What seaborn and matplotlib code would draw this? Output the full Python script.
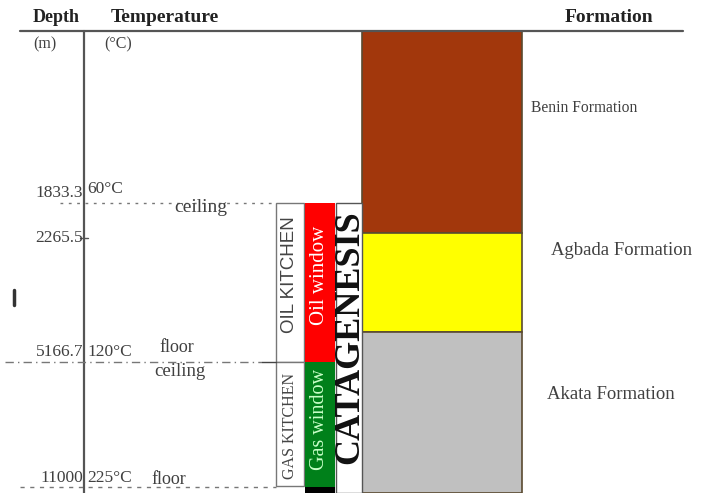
#!/usr/bin/env python3

from matplotlib import pyplot as plt
import numpy as np
import seaborn as sns

# Depth markers (m) and the temperatures read beside them
depth_marks = [1833.3, 2265.5, 5166.7, 11000]
depth_labels = ["1833.3", "2265.5", "5166.7", "11000"]
temp_labels = ["60\u00b0C", "", "120\u00b0C", "225\u00b0C"]

# Formations: name, top and base depth (m)
formations = ["Benin Formation", "Agbada Formation", "Akata Formation"]
form_top = [0, 2205, 4470]
form_base = [2205, 4470, 11300]
form_colors = ["#a2370c", "#ffff00", "#c0c0c0"]

# Hydrocarbon windows
windows = ["Oil window", "Gas window", ""]
win_top = [1833.3, 5166.7, 11000]
win_base = [5166.7, 11000, 11300]
win_colors = ["#ff0000", "#00801a", "#000000"]
kitchens = ["OIL KITCHEN", "GAS KITCHEN"]

# Depth -> drawing position (schematic, non-linear depth column)
scale_depth = [-700, 0, 1833.3, 2265.5, 5166.7, 11000, 11300]
scale_pos = [0, 31, 203, 238, 362, 487, 493]


def fwd(d):
    return np.interp(d, scale_depth, scale_pos)


def inv(p):
    return np.interp(p, scale_pos, scale_depth)


def label(ax, x, d, s, dy=0, size=12.5, **kw):
    """Text anchored at depth d, shifted dy pixels up."""
    ax.annotate(s, (x, d), xytext=(0, dy * 0.72), textcoords="offset points",
                fontsize=size, va="center", **kw)


def main():
    sns.set_theme(style="white")
    plt.rcParams["font.family"] = ["Liberation Serif", "DejaVu Serif"]

    fig = plt.figure(figsize=(7.01, 4.93), dpi=100)
    ax = fig.add_axes([0, 0, 1, 1])
    ax.set_yscale("function", functions=(fwd, inv))
    ax.set_xlim(0, 701)
    ax.set_ylim(11300, -700)
    ax.axis("off")

    txt = "#404040"
    hdr = "#222222"

    # Header
    ax.plot([20, 683], [0, 0], color="#555555", lw=1.6)
    ax.plot([84, 84], [0, 11300], color="#555555", lw=1.6)
    label(ax, 33, 0, "Depth", dy=13, size=13, fontweight="bold", color=hdr)
    label(ax, 111, 0, "Temperature", dy=13, size=14, fontweight="bold", color=hdr)
    label(ax, 565, 0, "Formation", dy=13, size=14, fontweight="bold", color=hdr)
    label(ax, 33, 0, "(m)", dy=-13, size=11.5, color=txt)
    label(ax, 104, 0, "(\u00b0C)", dy=-13, size=11.5, color=txt)

    # Formation column
    heights = np.array(form_base) - np.array(form_top)
    ax.bar(442, heights, width=160, bottom=form_top, color=form_colors,
           edgecolor="#5a4a30", linewidth=1.2)
    name_x = [531, 551, 547]
    name_d = [820, 2550, 6700]
    name_size = [11.2, 13.5, 13.5]
    for name, x, d, s in zip(formations, name_x, name_d, name_size):
        label(ax, x, d, name, size=s, color=txt)

    # Kitchens boxes
    ax.bar(290, [5166.7 - 1833.3, 10960 - 5166.7], width=28,
           bottom=[1833.3, 5166.7], color="white", edgecolor="#777777", linewidth=1)
    ax.text(290, 3130, kitchens[0], rotation=90, fontsize=13.5,
            family="Liberation Sans", color="#444444", ha="center", va="center")
    ax.text(290, 8170, kitchens[1], rotation=90, fontsize=11.5,
            color="#444444", ha="center", va="center")

    # Windows
    wh = np.array(win_base) - np.array(win_top)
    ax.bar(320, wh, width=30, bottom=win_top, color=win_colors, linewidth=0)
    ax.text(320, 3130, windows[0], rotation=90, fontsize=15, color="white",
            ha="center", va="center")
    ax.text(320, 7850, windows[1], rotation=90, fontsize=14.5, color="#c8ffc8",
            ha="center", va="center")

    # Catagenesis column
    ax.bar(349, 11300 - 1833.3, width=26, bottom=1833.3, color="white",
           edgecolor="#555555", linewidth=1)
    ax.text(350, 4580, "CATAGENESIS", rotation=90, fontsize=26, fontweight="bold",
            color="#111111", ha="center", va="center")

    # Depth / temperature markers
    ax.plot([60, 276], [depth_marks[0]] * 2, color="#777777", lw=1, ls=(0, (2, 4)))
    ax.plot([5, 262], [depth_marks[2]] * 2, color="#777777", lw=1, ls=(0, (6, 3, 1, 3)))
    ax.plot([262, 276], [depth_marks[2]] * 2, color="#444444", lw=1)
    ax.plot([20, 276], [depth_marks[3]] * 2, color="#777777", lw=1, ls=(0, (3, 4)))
    ax.plot([80, 88], [depth_marks[1]] * 2, color="#555555", lw=1)

    lab_dy = [10, 0, 10, 9]
    temp_dy = [14, 0, 10, 9]
    for d, lab, tl, dy, ty in zip(depth_marks, depth_labels, temp_labels, lab_dy, temp_dy):
        label(ax, 83, d, lab, dy=dy, color=txt, ha="right")
        if tl:
            label(ax, 87, d, tl, dy=ty, color=txt)

    label(ax, 174, depth_marks[0], "ceiling", dy=-5, size=14, color=txt)
    label(ax, 159, depth_marks[2], "floor", dy=14, size=13, color=txt)
    label(ax, 154, depth_marks[2], "ceiling", dy=-10, size=13.5, color=txt)
    label(ax, 151, depth_marks[3], "floor", dy=8, size=13, color=txt)
    ax.plot([14, 14], [inv(290), inv(305)], color="#333333", lw=2.5)

    plt.savefig("out.png", dpi=100)


if __name__ == "__main__":
    main()
